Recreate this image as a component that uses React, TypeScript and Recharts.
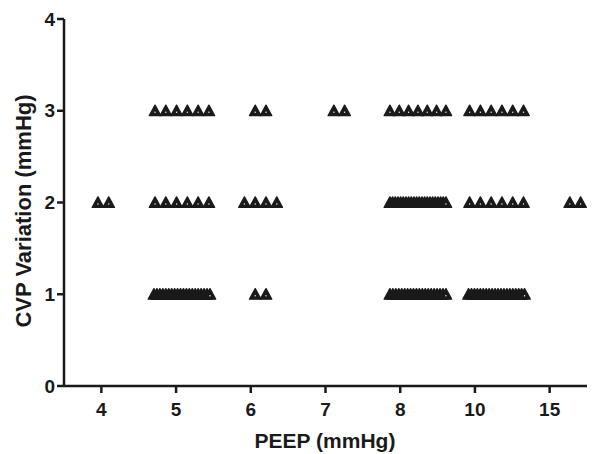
import { ScatterChart, Scatter, XAxis, YAxis } from 'recharts';

// PEEP categories along the x axis
const peepLevels = ['4', '5', '6', '7', '8', '10', '15'];
// CVP variation levels that were observed
const cvpLevels = [1, 2, 3];
// number of patients at each PEEP category, one array per CVP level
const countsAtCvp1 = [0, 20, 2, 0, 20, 20, 0];
const countsAtCvp2 = [2, 6, 4, 0, 22, 6, 2];
const countsAtCvp3 = [0, 6, 2, 2, 7, 6, 0];
const yTicks = [0, 1, 2, 3, 4];

const countsByLevel = [countsAtCvp1, countsAtCvp2, countsAtCvp3];

// column-scatter spread (in category units), like Prism does it
const STEP = 0.137;
const MAX_SPAN = 0.712;

const points: { x: number; y: number }[] = [];
cvpLevels.forEach((level, li) => {
  countsByLevel[li].forEach((n, ci) => {
    if (!n) return;
    const step = n > 1 ? Math.min(STEP, MAX_SPAN / (n - 1)) : 0;
    for (let k = 0; k < n; k++) {
      points.push({ x: ci + (k - (n - 1) / 2) * step, y: level });
    }
  });
});

const INK = '#1a1a1a';
const FONT = '"Liberation Sans", Arial, sans-serif';

const Triangle = (props: any) => {
  const cx = Number(props.cx);
  const cy = Number(props.cy);
  return (
    <g>
      <path
        d={`M${cx} ${cy - 5.6} L${cx + 5.7} ${cy + 4.9} L${cx - 5.7} ${cy + 4.9} Z`}
        style={{ fill: INK, stroke: INK, strokeWidth: 1.4, strokeLinejoin: 'round' }}
      />
      <rect x={cx - 0.6} y={cy + 0.9} width={1.2} height={1.2} style={{ fill: '#fff' }} />
    </g>
  );
};

export default function App() {
  return (
    <div style={{ position: 'absolute', left: 0, top: 0, background: '#fff' }}>
      <ScatterChart width={611} height={454} margin={{ top: 19, right: 24, left: 0, bottom: 0 }}>
        <XAxis
          xAxisId="cat"
          type="number"
          dataKey="x"
          domain={[-0.5, 6.5]}
          allowDataOverflow
          ticks={[0, 1, 2, 3, 4, 5, 6]}
          interval={0}
          tickFormatter={(v: number) => peepLevels[v]}
          height={68}
          tickSize={7}
          tickMargin={10}
          axisLine={{ stroke: INK, strokeWidth: 2.5 }}
          tickLine={{ stroke: INK, strokeWidth: 2.5 }}
          tick={{ fill: INK, fontSize: 19, fontWeight: 700, fontFamily: FONT }}
          label={{
            content: () => (
              <text x={325} y={448} textAnchor="middle" fill={INK} fontSize={21} fontWeight={700} fontFamily={FONT}>
                PEEP (mmHg)
              </text>
            ),
          }}
        />
        <XAxis xAxisId="pts" type="number" dataKey="x" domain={[-0.5, 6.15]} allowDataOverflow hide />
        <YAxis
          type="number"
          dataKey="y"
          domain={[0, 4]}
          allowDataOverflow
          ticks={yTicks}
          interval={0}
          width={64}
          tickSize={7}
          tickMargin={2}
          axisLine={{ stroke: INK, strokeWidth: 2.5 }}
          tickLine={{ stroke: INK, strokeWidth: 2.5 }}
          tick={{ fill: INK, fontSize: 19, fontWeight: 700, fontFamily: FONT }}
          label={{
            content: () => (
              <text
                x={23}
                y={211}
                dy="0.35em"
                transform="rotate(-90, 23, 211)"
                textAnchor="middle"
                fill={INK}
                fontSize={22}
                fontWeight={700}
                fontFamily={FONT}
              >
                CVP Variation (mmHg)
              </text>
            ),
          }}
        />
        <Scatter
          xAxisId="pts"
          data={points}
          fill={INK}
          shape={(p: any) => <Triangle {...p} />}
          isAnimationActive={false}
        />
      </ScatterChart>
    </div>
  );
}
